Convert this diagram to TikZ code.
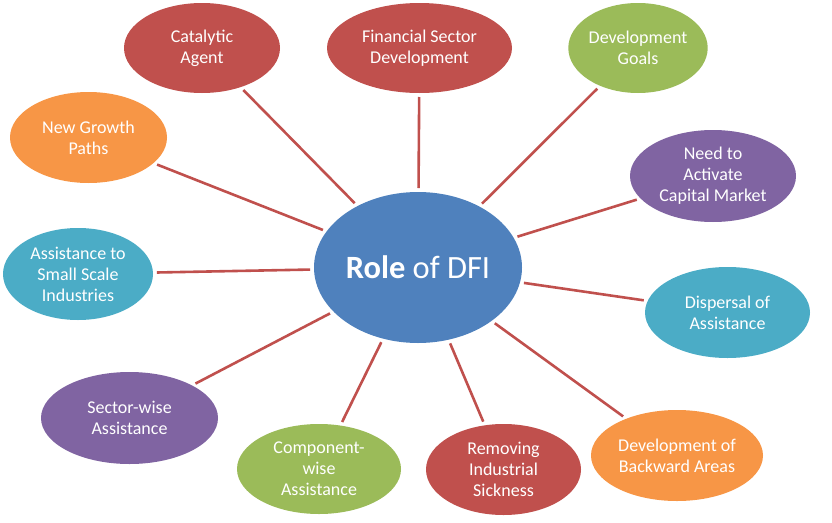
\documentclass[tikz,border=0pt]{standalone}
\usepackage{fontspec}
\setmainfont{Carlito}
\usetikzlibrary{shapes.geometric}
\definecolor{cblue}{HTML}{4F81BD}
\definecolor{cred}{HTML}{C0504D}
\definecolor{cgreen}{HTML}{9BBB59}
\definecolor{cpurple}{HTML}{8064A2}
\definecolor{caqua}{HTML}{4BACC6}
\definecolor{corange}{HTML}{F79646}
\begin{document}
\begin{tikzpicture}[x=1pt,y=-1pt,
  bub/.style={ellipse, inner sep=0pt, outer sep=0pt, text=white, align=center,
    font=\fontsize{18}{21}\selectfont},
  link/.style={draw=cred, line width=2.6pt, shorten <=4pt, shorten >=4pt}]
\useasboundingbox (0,0) rectangle (832,522);
\node[bub, fill=cblue, minimum width=208pt, minimum height=151pt,
  font=\fontsize{32.5}{40}\selectfont] (dfi) at (418,267.5) {\textbf{Role} of DFI};
\node[bub, fill=cred, minimum width=156pt, minimum height=90pt] (cat) at (202,48) {Catalytic\\Agent};
\node[bub, fill=cred, minimum width=185pt, minimum height=90pt] (fin) at (419.5,48) {Financial Sector\\Development};
\node[bub, fill=cgreen, minimum width=136pt, minimum height=90pt] (goal) at (638,48) {Development\\Goals};
\node[bub, fill=cpurple, minimum width=166pt, minimum height=92pt] (need) at (713,176) {Need to\\Activate\\Capital Market};
\node[bub, fill=caqua, minimum width=165pt, minimum height=91pt] (disp) at (727.5,312.5) {Dispersal of\\Assistance};
\node[bub, fill=corange, minimum width=172pt, minimum height=91pt] (back) at (677,455.5) {Development of\\Backward Areas};
\node[bub, fill=cred, minimum width=155pt, minimum height=91pt] (sick) at (503.5,469.5) {Removing\\Industrial\\Sickness};
\node[bub, fill=cgreen, minimum width=164pt, minimum height=90pt] (comp) at (319,469) {Component-\\wise\\Assistance};
\node[bub, fill=cpurple, minimum width=177pt, minimum height=92pt] (sect) at (129.5,418) {Sector-wise\\Assistance};
\node[bub, fill=caqua, minimum width=150pt, minimum height=92pt] (small) at (78,274) {Assistance to\\Small Scale\\Industries};
\node[bub, fill=corange, minimum width=157pt, minimum height=91pt] (grow) at (88.5,137.5) {New Growth\\Paths};
\foreach \n in {cat,fin,goal,need,disp,back,sick,comp,sect,small,grow}
  \draw[link] (dfi) -- (\n);
\end{tikzpicture}
\end{document}
